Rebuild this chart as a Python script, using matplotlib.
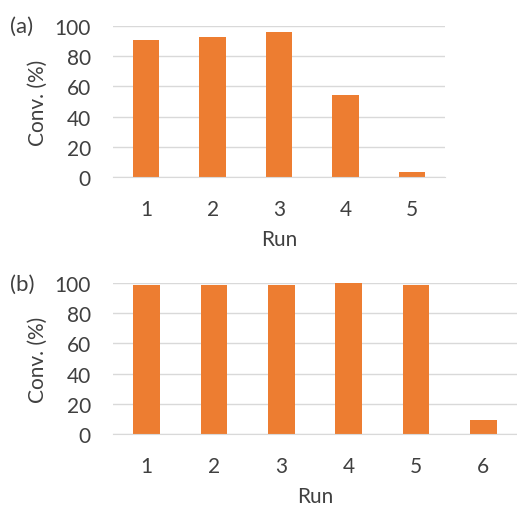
import numpy as np
import matplotlib.pyplot as plt

plt.rcParams['font.family'] = ['Lato', 'DejaVu Sans']

runs_a = ['1', '2', '3', '4', '5']
conv_a = [91, 92.5, 96, 54, 3.5]

runs_b = ['1', '2', '3', '4', '5', '6']
conv_b = [99, 99, 99, 100, 99, 9.5]

bar_color = '#ED7D31'
grid_color = '#D9D9D9'
text_color = '#404040'
fs = 15

fig = plt.figure(figsize=(5.17, 5.10), dpi=100)
ax_a = fig.add_axes([113 / 517, 1 - 178 / 510, 332 / 517, 151 / 510])
ax_b = fig.add_axes([113 / 517, 1 - 435 / 510, 404 / 517, 151 / 510])


def style(ax, runs, vals):
    x = np.arange(len(runs))
    ax.bar(x, vals, width=0.4, color=bar_color, zorder=3, clip_on=False)
    ax.set_xlim(-0.5, len(runs) - 0.5)
    ax.set_ylim(0, 100)
    ax.set_yticks(range(0, 101, 20))
    ax.set_xticks(x)
    ax.set_xticklabels(runs)
    ax.yaxis.grid(True, color=grid_color, linewidth=1, zorder=0)
    for s in ['top', 'right', 'left']:
        ax.spines[s].set_visible(False)
    ax.spines['bottom'].set_color(grid_color)
    ax.spines['bottom'].set_zorder(4)
    ax.tick_params(axis='both', length=0, labelsize=fs, colors=text_color)
    ax.tick_params(axis='y', pad=16)
    ax.tick_params(axis='x', pad=16)
    ax.set_xlabel('Run', fontsize=fs, color=text_color, labelpad=7)
    ax.set_ylabel('Conv. (%)', fontsize=fs, color=text_color, labelpad=5)


style(ax_a, runs_a, conv_a)
style(ax_b, runs_b, conv_b)

fig.text(10 / 517, 1 - 27 / 510, '(a)', fontsize=fs + 1, color=text_color, va='center')
fig.text(10 / 517, 1 - 285 / 510, '(b)', fontsize=fs + 1, color=text_color, va='center')

fig.savefig('out.png', dpi=100)
